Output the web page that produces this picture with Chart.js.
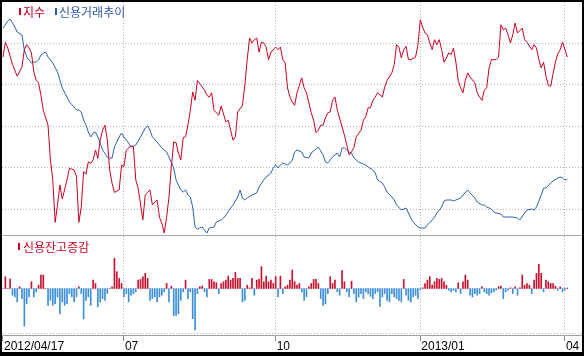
<!DOCTYPE html>
<html><head><meta charset="utf-8">
<script src="https://cdn.jsdelivr.net/npm/chart.js@4/dist/chart.umd.min.js"></script>
<style>
html,body{margin:0;padding:0;background:#fff;width:584px;height:356px;overflow:hidden;}
#frame{position:absolute;left:0;top:0;width:584px;height:356px;box-sizing:border-box;border-style:solid;border-color:#000;border-width:2px 2px 4px 2px;pointer-events:none;z-index:5;}
#topc{position:absolute;left:2px;top:2px;}
#sep{position:absolute;left:2px;top:235px;width:580px;height:1px;background:#a3a9b3;z-index:3;}
#axl{position:absolute;left:2px;top:335px;width:580px;height:1px;background:#9aa1ab;z-index:3;}
#botc{position:absolute;left:2px;top:236px;}
.lg{position:absolute;font-family:"Noto Sans CJK KR";font-size:12px;line-height:14px;white-space:nowrap;z-index:4;}
.mk{position:absolute;width:2px;height:7px;z-index:4;}
</style></head><body>
<canvas id="topc" width="580" height="233"></canvas>
<div id="sep"></div>
<canvas id="botc" width="580" height="116"></canvas>
<div id="axl"></div>
<div class="mk" style="left:19px;top:8px;background:#cc0022"></div>
<div class="lg" style="left:23px;top:5px;color:#cc0022">지수</div>
<div class="mk" style="left:55px;top:8px;background:#2d5aa6"></div>
<div class="lg" style="left:59px;top:5px;color:#2d5aa6">신용거래추이</div>
<div class="mk" style="left:18px;top:243px;background:#cc0022"></div>
<div class="lg" style="left:23px;top:240px;color:#cc0022">신용잔고증감</div>
<div id="frame"></div>
<script>
// trading-day index: 0 = 2012/04/17
const tickDays = [0, 51, 115, 176, 237];
const tickLabels = ['2012/04/17', '07', '10', '2013/01', '04'];
const indexGrid = [1800, 1850, 1900, 1950, 2000];

const indexDays = [0,1,2,4,6,8,9,10,11,12,13,14,15,16,17,19,20,21,22,23,24,25,27,28,30,31,32,33,34,35,36,37,38,39,40,41,42,43,44,45,46,47,49,50,51,52,54,55,56,57,59,60,61,62,63,65,66,67,68,69,70,71,72,73,74,75,76,77,78,79,80,81,82,84,85,86,87,88,89,91,92,94,95,97,98,99,101,102,103,104,105,106,107,108,109,110,111,112,113,115,116,117,118,119,120,121,122,123,124,126,127,128,129,130,131,132,133,134,135,136,137,138,139,140,141,143,144,146,147,148,149,151,152,153,154,155,156,157,158,160,161,162,164,165,166,167,168,169,170,171,172,174,175,176,177,178,179,180,181,182,183,184,185,186,187,188,189,190,191,192,193,194,195,196,197,199,200,201,202,203,204,205,206,208,209,210,211,212,213,214,215,216,217,218,219,220,221,223,224,225,226,227,228,229,230,231,232,233,234,235,236,237,238];
const indexValues = [1983,2001,1994,1974,1960,1971,1992,1998,1994,1988,1965,1955,1952,1937,1919,1901,1859,1835,1784,1805,1829,1812,1835,1849,1847,1839,1784,1802,1845,1842,1857,1855,1859,1871,1861,1883,1895,1901,1883,1847,1831,1820,1823,1853,1851,1871,1876,1875,1835,1825,1787,1817,1820,1823,1805,1811,1790,1783,1771,1790,1814,1851,1881,1880,1867,1859,1886,1887,1901,1919,1941,1931,1955,1947,1943,1937,1935,1940,1919,1913,1924,1905,1907,1883,1887,1917,1925,1949,1980,2006,2000,2004,2006,1989,2001,2000,1995,1980,1989,1995,1992,1995,1980,1976,1946,1935,1929,1925,1940,1958,1946,1940,1928,1916,1907,1892,1895,1901,1901,1910,1916,1917,1931,1935,1919,1899,1889,1865,1869,1874,1887,1895,1907,1911,1922,1922,1931,1935,1940,1935,1947,1955,1964,1974,1998,1995,1982,1992,1996,1980,1980,1983,1998,2028,2019,2012,2010,2000,1992,2004,1998,2004,1992,1977,1982,1988,1986,1994,1977,1955,1946,1940,1955,1964,1959,1952,1940,1935,1931,1943,1946,1970,1980,1980,1983,2022,2016,2018,2010,2000,2010,2024,2012,2015,2018,2004,2001,1992,1998,1994,1980,1970,1977,1960,1949,1948,1963,1977,1987,1992,2001,1992,1983];

const creditDays = [0,1,2,3,4,5,6,8,9,10,11,12,13,14,15,16,17,18,19,21,23,24,25,27,28,30,31,32,33,34,35,36,37,38,39,40,41,42,44,45,46,47,49,50,51,53,54,56,58,60,61,62,63,65,66,67,69,70,72,73,75,76,77,78,79,80,81,82,83,84,85,86,87,89,90,92,93,94,96,97,99,100,101,102,103,105,107,108,110,111,113,114,115,116,117,118,120,121,122,123,124,126,127,129,130,132,133,135,136,137,138,139,141,142,143,144,146,147,148,150,151,153,154,156,157,158,160,161,162,164,165,166,168,170,171,172,173,175,176,178,179,181,182,183,185,186,187,189,190,191,193,194,196,197,199,200,202,203,204,206,207,208,210,211,213,214,215,217,218,220,221,223,224,225,227,228,229,231,232,234,235,236,237,238];
const creditValues = [50350,50500,50700,50800,50600,50400,50150,50000,49250,48900,48750,48600,48650,48650,48750,49000,49100,49150,48900,48600,48150,47750,47350,46900,46650,46400,46250,46250,46150,45750,45500,45150,44900,45100,45150,44900,44600,44250,43900,43850,43850,44400,44900,45100,44900,44600,44400,44500,44900,45350,45450,45250,44900,44650,44500,44350,44150,43900,43350,42750,42250,42150,42250,42000,41900,41400,40400,40300,40350,40400,40250,40100,40350,40400,40650,40750,40850,41000,41350,41500,41900,42250,41850,41750,41850,42000,42100,42400,42750,42900,43100,43350,43500,43350,43500,43600,43500,43600,43750,44150,44250,44150,43900,43850,44100,44300,44400,44000,43650,43600,43750,43900,44100,43900,44350,44350,44150,44100,43850,43650,43600,43500,43400,43250,43100,42750,42600,42400,42150,41900,41750,41500,41250,41350,41100,40850,40650,40400,40350,40350,40500,40750,40900,41100,41400,41700,41750,41750,41700,41750,41850,42000,42250,42100,41850,41650,41500,41500,41400,41300,41150,41100,41050,40900,40900,40900,40900,40850,40750,41100,41250,41300,41250,41400,42000,42350,42350,42600,42700,42850,42900,42850,42750,42800];

// daily change of credit balance (one value per trading day, index 0..238)
const changeValues = [0,117,0,93,-67,-83,-133,17,-100,-373,-150,-83,67,-83,-33,33,133,133,0,-167,-117,-167,-150,-83,-250,-133,-167,-150,-50,-83,-133,-83,17,-50,-300,-117,-83,-167,83,50,-183,-133,-100,-117,-50,0,17,300,167,100,50,-83,-50,-133,-67,-50,-33,83,90,117,150,100,-117,-100,-83,-133,-83,-67,-33,50,-133,23,-267,-267,-250,-117,-33,83,-100,-33,-300,-410,-50,17,23,-33,-83,90,90,67,57,-50,50,67,83,123,83,100,160,100,100,-133,-117,33,7,100,-67,83,90,217,67,123,67,83,50,117,-83,123,-50,17,33,83,183,67,33,50,-33,-117,-83,17,50,90,90,50,-100,-167,-150,-50,117,50,83,-33,-67,177,67,-33,-83,73,-50,-133,-83,-50,-100,-33,-50,-77,-100,-50,-33,-177,-83,-50,-117,-133,-50,-83,-100,-117,-133,90,-67,-117,-133,-83,-67,-100,-10,7,50,83,117,33,67,100,90,100,67,33,-17,-33,-17,-33,57,-50,67,133,83,-67,-83,-50,-67,-50,17,-33,-50,-67,-43,-33,-17,17,23,-100,-33,-17,7,-50,17,-67,7,133,33,50,33,-50,83,150,240,150,-33,83,67,50,50,23,-17,17,-33,-17,5];

const RED = '#cc0022', BLUE = '#2d62a8', BAR_RED = '#c4122f', BAR_BLUE = '#3f8fd8';
const GRID = '#b4b4b4';
const X_MIN = -0.42, X_MAX = 244.2;

const common = {
  responsive: false, animation: false, events: [],
  layout: { padding: 0, autoPadding: false },
  plugins: { legend: { display: false }, tooltip: { enabled: false } }
};

new Chart(document.getElementById('topc'), {
  type: 'line',
  data: { datasets: [
    { label: '지수', data: indexDays.map((d, i) => ({ x: d, y: indexValues[i] })),
      borderColor: RED, borderWidth: 1, pointRadius: 0, tension: 0, yAxisID: 'yIdx' },
    { label: '신용거래추이', data: creditDays.map((d, i) => ({ x: d, y: creditValues[i] })),
      borderColor: BLUE, borderWidth: 1, pointRadius: 0, tension: 0, yAxisID: 'yCr' }
  ]},
  options: Object.assign({}, common, {
    scales: {
      x: { type: 'linear', min: X_MIN, max: X_MAX,
        afterBuildTicks: s => { s.ticks = tickDays.slice(1).map(v => ({ value: v })); },
        afterFit: s => { s.height = 0; },
        ticks: { display: false }, border: { display: false, dash: [1, 2] },
        grid: { color: GRID, drawTicks: false, offset: false } },
      yIdx: { type: 'linear', position: 'left', min: 1768.7, max: 2049.4,
        afterBuildTicks: s => { s.ticks = indexGrid.map(v => ({ value: v })); },
        afterFit: s => { s.width = 0; },
        ticks: { display: false }, border: { display: false, dash: [1, 2] },
        grid: { color: GRID, drawTicks: false } },
      yCr: { type: 'linear', display: false, min: 40000, max: 51650 }
    }
  })
});

new Chart(document.getElementById('botc'), {
  type: 'bar',
  data: { datasets: [{
    label: '신용잔고증감', data: changeValues.map((v, i) => ({ x: i, y: v })),
    backgroundColor: ctx => (ctx.raw && ctx.raw.y < 0) ? BAR_BLUE : BAR_RED,
    barThickness: 1, borderWidth: 0
  }]},
  options: Object.assign({}, common, {
    scales: {
      x: { type: 'linear', min: X_MIN, max: X_MAX, offset: false,
        afterBuildTicks: s => { s.ticks = tickDays.map(v => ({ value: v })); },
        afterFit: s => { s.height = 16; },
        ticks: { display: true, autoSkip: false, maxRotation: 0, align: 'start', labelOffset: 1, padding: -2,
          color: '#000', font: { family: 'Liberation Sans', size: 12 },
          callback: v => tickLabels[tickDays.indexOf(v)] },
        border: { display: false, dash: [1, 2] },
        grid: { color: c => (c.tick && c.tick.value === 0) ? 'rgba(0,0,0,0)' : GRID, offset: false,
          drawTicks: true, tickLength: 5, tickColor: '#8a8a8a', tickBorderDash: [] } },
      y: { type: 'linear', min: -470, max: 520,
        afterBuildTicks: s => { s.ticks = [{ value: -450 }]; },
        afterFit: s => { s.width = 0; },
        ticks: { display: false }, border: { display: false, dash: [1, 2] },
        grid: { color: GRID, drawTicks: false } }
    }
  })
});
</script>
</body></html>
